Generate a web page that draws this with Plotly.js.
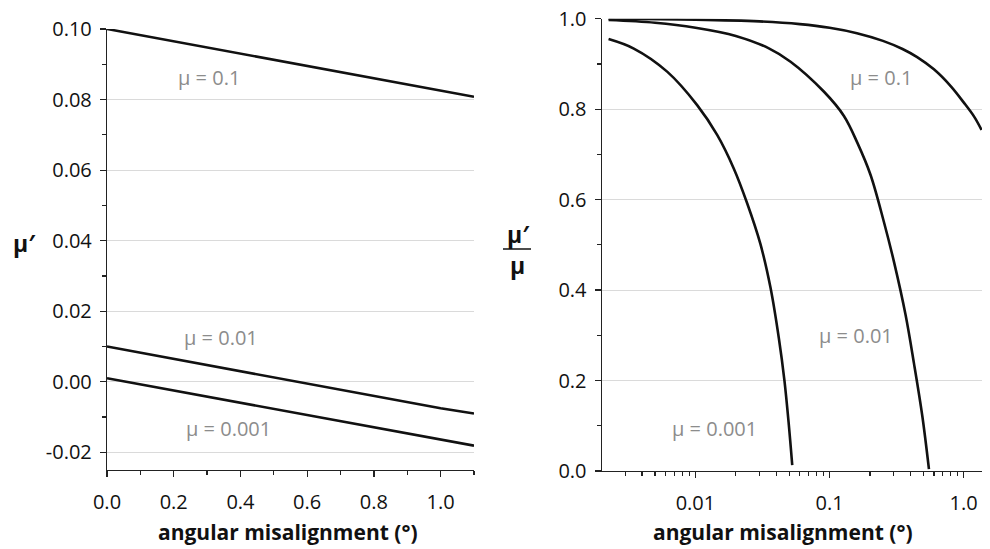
<!DOCTYPE html>
<html><head><meta charset="utf-8">
<script src="https://cdn.plot.ly/plotly-3.0.1.min.js"></script>
<style>body{margin:0;background:#fff}</style></head>
<body><div id="chart" style="width:990px;height:549px"></div>
<script>
// Left panel: mu' vs angular misalignment (deg)
const angleLin = [0.0, 0.2, 0.4, 0.6, 0.8, 1.0, 1.1];
const muPrime_0p1 = [0.1000, 0.0965, 0.0931, 0.0895, 0.0859, 0.0825, 0.0808];
const muPrime_0p01 = [0.0100, 0.0065, 0.0030, -0.0005, -0.0040, -0.0075, -0.0090];
const muPrime_0p001 = [0.0010, -0.0025, -0.0060, -0.0095, -0.0130, -0.0164, -0.0181];

// Right panel: mu'/mu vs angular misalignment (deg, log axis)
const angle_0p001 = [0.00225, 0.00347, 0.00615, 0.0103, 0.01452, 0.0193, 0.0243, 0.0305, 0.0363, 0.0419, 0.0461, 0.0497, 0.0527];
const ratio_0p001 = [0.955, 0.934, 0.883, 0.809, 0.743, 0.669, 0.592, 0.502, 0.405, 0.293, 0.200, 0.102, 0.013];
const angle_0p01 = [0.00225, 0.005, 0.010, 0.020, 0.035, 0.0512, 0.0906, 0.128, 0.161, 0.202, 0.254, 0.302, 0.369, 0.426, 0.492, 0.551];
const ratio_0p01 = [0.997, 0.991, 0.980, 0.962, 0.935, 0.905, 0.839, 0.785, 0.726, 0.655, 0.551, 0.463, 0.345, 0.238, 0.121, 0.004];
const angle_0p1 = [0.00225, 0.010, 0.030, 0.060, 0.100, 0.160, 0.250, 0.350, 0.450, 0.600, 0.800, 1.000, 1.200, 1.360];
const ratio_0p1 = [1.000, 0.998, 0.994, 0.988, 0.980, 0.968, 0.951, 0.933, 0.915, 0.888, 0.851, 0.815, 0.783, 0.754];

const leftXTicks = [0, 0.2, 0.4, 0.6, 0.8, 1.0];
const leftXText = ["0.0", "0.2", "0.4", "0.6", "0.8", "1.0"];
const leftYTicks = [-0.02, 0, 0.02, 0.04, 0.06, 0.08, 0.10];
const leftYText = ["-0.02", "0.00", "0.02", "0.04", "0.06", "0.08", "0.10"];
const rightXTicks = [0.01, 0.1, 1];
const rightXText = ["0.01", "0.1", "1.0"];
const rightXMinor = [0.003,0.004,0.005,0.006,0.007,0.008,0.009,0.02,0.03,0.04,0.05,0.06,0.07,0.08,0.09,0.2,0.3,0.4,0.5,0.6,0.7,0.8,0.9];
const rightYTicks = [0, 0.2, 0.4, 0.6, 0.8, 1.0];
const rightYText = ["0.0", "0.2", "0.4", "0.6", "0.8", "1.0"];

const FONT = "Open Sans, Noto Sans, sans-serif";
const lineStyle = {color: "#111", width: 2.6};
const splineStyle = {color: "#111", width: 2.6, shape: "spline", smoothing: 1};

const traces = [
  {x: angleLin, y: muPrime_0p1, mode: "lines", line: lineStyle, xaxis: "x", yaxis: "y"},
  {x: angleLin, y: muPrime_0p01, mode: "lines", line: lineStyle, xaxis: "x", yaxis: "y"},
  {x: angleLin, y: muPrime_0p001, mode: "lines", line: lineStyle, xaxis: "x", yaxis: "y"},
  {x: angle_0p001, y: ratio_0p001, mode: "lines", line: splineStyle, xaxis: "x2", yaxis: "y2"},
  {x: angle_0p01, y: ratio_0p01, mode: "lines", line: splineStyle, xaxis: "x2", yaxis: "y2"},
  {x: angle_0p1, y: ratio_0p1, mode: "lines", line: splineStyle, xaxis: "x2", yaxis: "y2"}
];

const axisCommon = {
  showline: true, linecolor: "#222", linewidth: 1.2,
  ticks: "outside", ticklen: 6, tickcolor: "#222", tickwidth: 1.2,
  tickfont: {family: FONT, size: 20, color: "#111"},
  zeroline: false, automargin: false, fixedrange: true
};

function label(text, px, py, size, color, weight) {
  return {text: text, x: px/990, y: 1 - py/549, xref: "paper", yref: "paper",
          xanchor: "center", yanchor: "middle", showarrow: false,
          font: {family: FONT, size: size, color: color, weight: weight || 400}};
}

const layout = {
  width: 990, height: 549,
  margin: {l: 0, r: 0, t: 0, b: 0},
  paper_bgcolor: "#fff", plot_bgcolor: "#fff",
  showlegend: false,
  font: {family: FONT},
  xaxis: Object.assign({}, axisCommon, {
    domain: [107/990, 474/990], range: [0, 1.1],
    tickmode: "array", tickvals: leftXTicks, ticktext: leftXText,
    showgrid: false, anchor: "y", ticklabelstandoff: 8,
    minor: {tickmode: "linear", tick0: 0, dtick: 0.1, ticklen: 4, ticks: "outside", tickcolor: "#222", showgrid: false}
  }),
  yaxis: Object.assign({}, axisCommon, {
    domain: [1 - 470/549, 1 - 29/549], range: [-0.025, 0.10],
    tickmode: "array", tickvals: leftYTicks, ticktext: leftYText,
    showgrid: true, gridcolor: "#dadada", gridwidth: 1, anchor: "x", ticklabelstandoff: 4,
    minor: {tickmode: "linear", tick0: 0, dtick: 0.01, ticklen: 4, ticks: "outside", tickcolor: "#222", showgrid: false}
  }),
  xaxis2: Object.assign({}, axisCommon, {
    domain: [601.7/990, 982/990], type: "log",
    range: [Math.log10(0.002), Math.log10(1.37)],
    tickmode: "array", tickvals: rightXTicks, ticktext: rightXText,
    showgrid: false, anchor: "y2", ticklabelstandoff: 8,
    minor: {tickmode: "array", tickvals: rightXMinor, ticklen: 4, ticks: "outside", tickcolor: "#222", showgrid: false}
  }),
  yaxis2: Object.assign({}, axisCommon, {
    domain: [1 - 471/549, 1 - 18.7/549], range: [0, 1.0],
    tickmode: "array", tickvals: rightYTicks, ticktext: rightYText,
    showgrid: true, gridcolor: "#dadada", gridwidth: 1, anchor: "x2", ticklabelstandoff: 4,
    minor: {tickmode: "linear", tick0: 0, dtick: 0.1, ticklen: 4, ticks: "outside", tickcolor: "#222", showgrid: false}
  }),
  annotations: [
    label("μ = 0.1", 209, 77, 20, "#8c8c8c"),
    label("μ = 0.01", 221, 337, 20, "#8c8c8c"),
    label("μ = 0.001", 228, 428, 20, "#8c8c8c"),
    label("μ = 0.1", 881, 78, 20, "#8c8c8c"),
    label("μ = 0.01", 856, 335, 20, "#8c8c8c"),
    label("μ = 0.001", 714, 428, 20, "#8c8c8c"),
    label("angular misalignment (°)", 288, 532, 21, "#111", 700),
    label("angular misalignment (°)", 783, 532, 21, "#111", 700),
    label("μ′", 24, 243, 23, "#111", 700),
    label("μ′", 518, 234, 23, "#111", 700),
    label("μ", 517, 265, 23, "#111", 700)
  ],
  shapes: [
    {type: "line", xref: "paper", yref: "paper", x0: 503/990, x1: 531/990, y0: 1 - 249/549, y1: 1 - 249/549, line: {color: "#111", width: 1.5}}
  ]
};

Plotly.newPlot("chart", traces, layout, {staticPlot: true, displayModeBar: false});
</script>
</body></html>
